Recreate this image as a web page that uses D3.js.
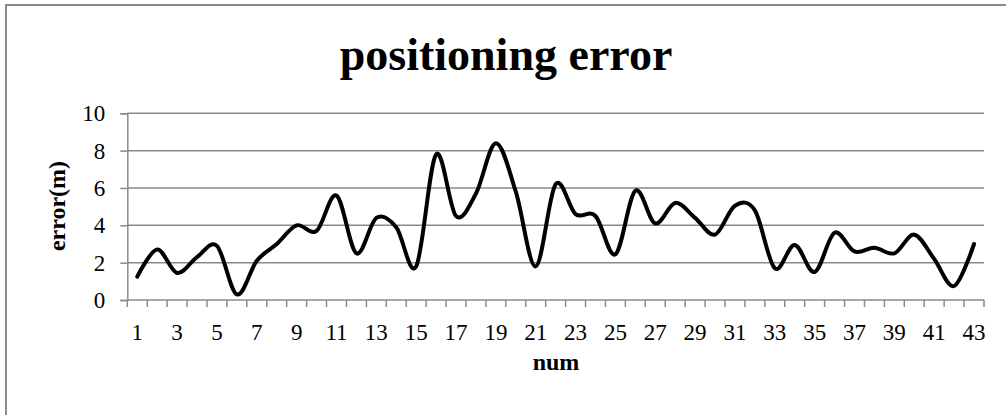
<!DOCTYPE html>
<html>
<head>
<meta charset="utf-8">
<script src="https://cdn.jsdelivr.net/npm/d3@7"></script>
<style>
  body { margin: 0; background: #fff; }
  text { font-family: "Liberation Serif", "Times New Roman", serif; fill: #000; }
</style>
</head>
<body>
<div id="chart"></div>
<script>
/* CONSTANTS AND DATA */
const width = 1006,
  height = 415,
  margin = { top: 113.3, bottom: 115, left: 127.3, right: 22 };

const nums = d3.range(1, 44);
const errors = [
  1.25, 2.7, 1.45, 2.3, 2.9, 0.3, 2.1, 3.0, 4.0, 3.7,
  5.6, 2.5, 4.4, 3.9, 1.8, 7.8, 4.5, 5.7, 8.4, 5.8,
  1.8, 6.2, 4.6, 4.5, 2.45, 5.85, 4.1, 5.2, 4.4, 3.5,
  5.05, 4.8, 1.7, 2.95, 1.5, 3.6, 2.6, 2.8, 2.5, 3.5,
  2.2, 0.75, 3.0
];
const yTicks = [0, 2, 4, 6, 8, 10];
const xLabels = nums.filter(d => d % 2 === 1);

const data = nums.map((n, i) => ({ num: n, error: errors[i] }));

const svg = d3.select("#chart")
  .append("svg")
    .attr("width", width)
    .attr("height", height);

// chart border (only top/left visible in the crop)
svg.append("rect")
  .attr("x", 6)
  .attr("y", 5)
  .attr("width", width + 20)
  .attr("height", height + 20)
  .attr("fill", "none")
  .attr("stroke", "#8c8c8c")
  .attr("stroke-width", 2);

const xScale = d3.scaleBand()
  .domain(nums)
  .range([margin.left, 984])
  .paddingInner(0)
  .paddingOuter(0);

const yScale = d3.scaleLinear()
  .domain([0, 10])
  .range([300, margin.top]);

// gridlines
svg.append("g")
  .selectAll("line")
  .data(yTicks.filter(d => d > 0))
  .join("line")
    .attr("x1", margin.left)
    .attr("x2", 984)
    .attr("y1", d => yScale(d))
    .attr("y2", d => yScale(d))
    .attr("stroke", "#8a8a8a")
    .attr("stroke-width", 1.5);

// y axis
const yAxis = d3.axisLeft(yScale)
  .tickValues(yTicks)
  .tickSize(7)
  .tickPadding(15);

svg.append("g")
  .attr("class", "y-axis")
  .attr("transform", `translate(${margin.left},0)`)
  .call(yAxis)
  .call(g => g.select(".domain").attr("stroke", "#8a8a8a").attr("stroke-width", 1.5))
  .call(g => g.selectAll(".tick line").attr("stroke", "#8a8a8a").attr("stroke-width", 1.5))
  .call(g => g.selectAll(".tick text")
    .attr("font-size", 23)
    .attr("font-family", "Liberation Serif, Times New Roman, serif")
    .attr("dy", "0.33em"));

// x axis line and tick marks at category boundaries
const xg = svg.append("g").attr("class", "x-axis");
xg.append("line")
  .attr("x1", margin.left)
  .attr("x2", 984)
  .attr("y1", yScale(0))
  .attr("y2", yScale(0))
  .attr("stroke", "#8a8a8a")
  .attr("stroke-width", 1.5);

xg.selectAll(".xtick")
  .data(nums.concat([44]))
  .join("line")
    .attr("class", "xtick")
    .attr("x1", d => d === 44 ? 984 : xScale(d))
    .attr("x2", d => d === 44 ? 984 : xScale(d))
    .attr("y1", yScale(0))
    .attr("y2", yScale(0) + 7)
    .attr("stroke", "#8a8a8a")
    .attr("stroke-width", 1.5);

xg.selectAll(".xlabel")
  .data(xLabels)
  .join("text")
    .attr("class", "xlabel")
    .attr("x", d => xScale(d) + xScale.bandwidth() / 2)
    .attr("y", 340)
    .attr("text-anchor", "middle")
    .attr("font-size", 23)
    .text(d => d);

// line
const line = d3.line()
  .x(d => xScale(d.num) + xScale.bandwidth() / 2)
  .y(d => yScale(d.error))
  .curve(d3.curveCardinal.tension(0));

svg.append("path")
  .datum(data)
  .attr("d", line)
  .attr("fill", "none")
  .attr("stroke", "#000")
  .attr("stroke-width", 4)
  .attr("stroke-linejoin", "round")
  .attr("stroke-linecap", "round");

// titles
svg.append("text")
  .attr("x", 506)
  .attr("y", 70)
  .attr("text-anchor", "middle")
  .attr("font-size", 46)
  .attr("font-weight", "bold")
  .text("positioning error");

svg.append("text")
  .attr("x", 556)
  .attr("y", 370)
  .attr("text-anchor", "middle")
  .attr("font-size", 24)
  .attr("font-weight", "bold")
  .text("num");

svg.append("text")
  .attr("transform", "translate(65,206) rotate(-90)")
  .attr("text-anchor", "middle")
  .attr("font-size", 24)
  .attr("font-weight", "bold")
  .text("error(m)");
</script>
</body>
</html>
